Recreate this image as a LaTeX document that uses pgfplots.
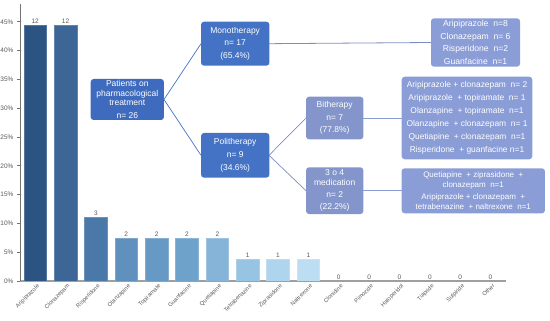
\documentclass[border=0pt]{standalone}
\usepackage{fontspec}
\setmainfont{Liberation Sans}
\usepackage{pgfplots}
\pgfplotsset{compat=1.18}
\definecolor{c1}{HTML}{2C5482}
\definecolor{c2}{HTML}{3B6696}
\definecolor{c3}{HTML}{4A78A9}
\definecolor{c4}{HTML}{5F90BE}
\definecolor{c5}{HTML}{6699C4}
\definecolor{c6}{HTML}{6FA2CB}
\definecolor{c7}{HTML}{86B4D8}
\definecolor{c8}{HTML}{98C4E3}
\definecolor{c9}{HTML}{AFD4EE}
\definecolor{c10}{HTML}{BDDDF2}
\definecolor{txtgray}{HTML}{595959}
\definecolor{boxdark}{HTML}{3F6BBF}
\definecolor{boxmid}{HTML}{4472C4}
\definecolor{boxlight}{HTML}{8A9DD6}
\begin{document}
\begin{tikzpicture}[x=1pt,y=1pt]
\useasboundingbox (0,0) rectangle (550,321);
\begin{axis}[
  at={(20pt,40pt)}, anchor=south west,
  scale only axis, width=485.7pt, height=276.5pt,
  xmin=-0.5, xmax=15.5, ymin=0, ymax=48,
  axis x line*=bottom, axis y line*=left,
  x axis line style={draw=gray!75, line width=1.5pt, -},
  y axis line style={draw=gray!90!black, line width=0.8pt, -},
  ytick={0,5,10,15,20,25,30,35,40,45},
  yticklabels={0\%,5\%,10\%,15\%,20\%,25\%,30\%,35\%,40\%,45\%},
  y tick label style={font=\fontsize{6.5}{7}\selectfont, color=txtgray},
  ytick style={draw=gray!90!black, line width=0.6pt},
  tick align=outside, major tick length=3pt,
  xtick={0,1,...,15},
  xticklabels={Aripiprazole,Clonazepam,Risperidone,Olanzapine,Topiramate,Guanfacine,Quetiapine,Tetrabenazine,Ziprasidone,Naltrexone,Clonidine,Pimozide,Haloperidol,Tiapride,Sulpiride,Other},
  xtick style={draw=none},
  x tick label style={rotate=45, anchor=north east, font=\fontsize{5.8}{6}\selectfont, color=txtgray, inner sep=0.5pt, xshift=2pt},
  ybar, bar width=22.7pt, bar shift=0pt,
  nodes near coords, point meta=explicit symbolic,
  nodes near coords style={font=\fontsize{6.5}{7}\selectfont, color=txtgray, inner sep=1.5pt},
]
\addplot[fill=c1, draw=c1!80!white, line width=0.6pt] coordinates {(0,44.44) [12]};
\addplot[fill=c2, draw=c2!80!white, line width=0.6pt] coordinates {(1,44.44) [12]};
\addplot[fill=c3, draw=c3!80!white, line width=0.6pt] coordinates {(2,11.11) [3]};
\addplot[fill=c4, draw=c4!80!white, line width=0.6pt] coordinates {(3,7.41) [2]};
\addplot[fill=c5, draw=c5!80!white, line width=0.6pt] coordinates {(4,7.41) [2]};
\addplot[fill=c6, draw=c6!80!white, line width=0.6pt] coordinates {(5,7.41) [2]};
\addplot[fill=c7, draw=c7!80!white, line width=0.6pt] coordinates {(6,7.41) [2]};
\addplot[fill=c8, draw=c8!80!white, line width=0.6pt] coordinates {(7,3.70) [1]};
\addplot[fill=c9, draw=c9!80!white, line width=0.6pt] coordinates {(8,3.70) [1]};
\addplot[fill=c10, draw=c10!80!white, line width=0.6pt] coordinates {(9,3.70) [1]};
\addplot[fill=gray!75, draw=none] coordinates {(10,0) [0] (11,0) [0] (12,0) [0] (13,0) [0] (14,0) [0] (15,0) [0]};
\end{axis}
% flowchart
\tikzset{
  box/.style={rounded corners=3pt, text=white, align=center, inner sep=0pt},
}
\draw[boxmid, line width=0.7pt] (164,221.5) -- (201,277.3);
\draw[boxmid, line width=0.7pt] (164,221.5) -- (201,165.7);
\draw[boxlight!90!black, line width=0.8pt] (269,277.3) -- (431,278.5);
\draw[boxlight!90!black, line width=0.7pt] (269,165.7) -- (306,203);
\draw[boxlight!90!black, line width=0.7pt] (269,165.7) -- (306,130.3);
\draw[boxlight, line width=0.8pt] (363,203) -- (402,203);
\draw[boxlight, line width=0.8pt] (363,130.3) -- (402,130.3);
\node[box, fill=boxdark, minimum width=73.3pt, minimum height=41pt, font=\fontsize{8.5}{9.3}\selectfont] at (127.3,221.5)
  {Patients on\\pharmacological\\treatment\\[3.5pt]n= 26};
\node[box, fill=boxmid, minimum width=68.3pt, minimum height=44pt, font=\fontsize{8.5}{12.7}\selectfont] at (235.2,277.3)
  {Monotherapy\\n= 17\\(65.4\%)};
\node[box, fill=boxmid, minimum width=68.3pt, minimum height=44.7pt, font=\fontsize{8.5}{12.7}\selectfont] at (235.2,165.7)
  {Politherapy\\n= 9\\(34.6\%)};
\node[box, fill=boxlight, minimum width=89pt, minimum height=48.4pt, font=\fontsize{8.6}{12.6}\selectfont] at (475.5,278.5)
  {Aripiprazole\ \ n=8\\Clonazepam\ \ n= 6\\Risperidone\ \ n=2\\Guanfacine\ \ n=1};
\node[box, fill=boxlight!95!black, minimum width=57.3pt, minimum height=42.6pt, font=\fontsize{8.5}{12.7}\selectfont] at (334.7,203)
  {Bitherapy\\n= 7\\(77.8\%)};
\node[box, fill=boxlight, minimum width=130.6pt, minimum height=82.6pt, font=\fontsize{8.4}{12.9}\selectfont] at (467,203)
  {Aripiprazole + clonazepam\ \ n= 2\\Aripiprazole\ \ + topiramate\ \ n= 1\\Olanzapine\ \ + topiramate\ \ n=1\\Olanzapine\ \ + clonazepam\ \ n= 1\\Quetiapine\ \ + clonazepam\ \ n=1\\Risperidone\ \ + guanfacine n=1};
\node[box, fill=boxlight!95!black, minimum width=57.3pt, minimum height=46.7pt, font=\fontsize{8.5}{10}\selectfont] at (334.7,130.3)
  {3 o 4\\medication\\[2pt]n= 2\\[2pt](22.2\%)};
\node[box, fill=boxlight, minimum width=143.3pt, minimum height=45pt, font=\fontsize{8}{9.5}\selectfont] at (473.3,130.2)
  {Quetiapine\ \ + ziprasidone\ \ +\\clonazepam\ \ n=1\\[3pt]Aripiprazole + clonazepam\ \ +\\tetrabenazine\ \ + naltrexone\ \ n=1};
\end{tikzpicture}
\end{document}
